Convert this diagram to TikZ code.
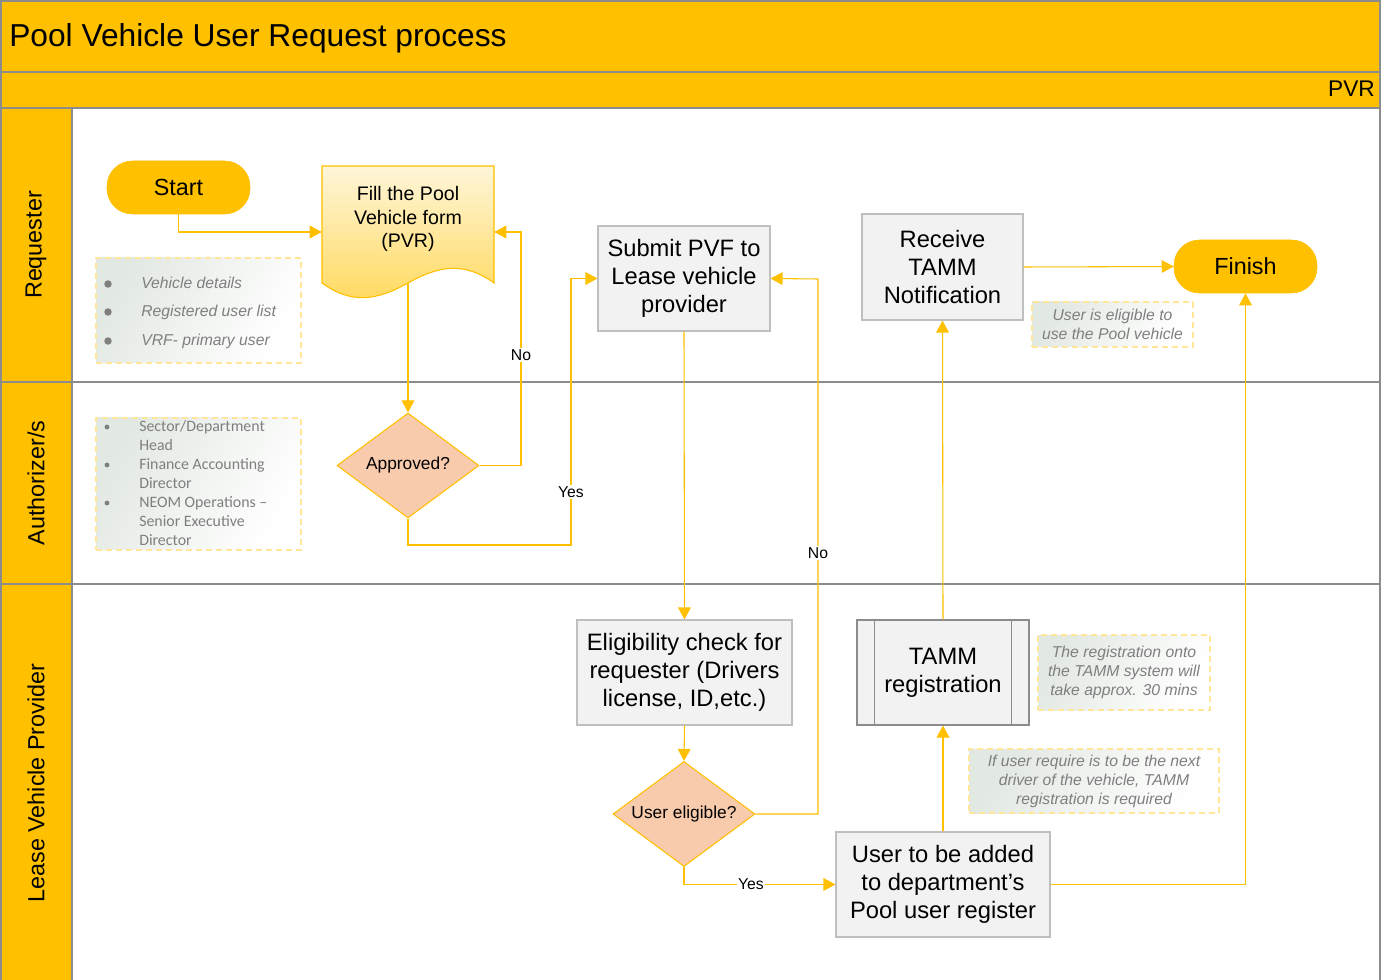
\documentclass[tikz,border=0pt]{standalone}
\usepackage{fontspec}
\setmainfont{Liberation Sans}
\newfontfamily\notefont{Carlito}
\usetikzlibrary{arrows.meta,shapes.geometric}

\definecolor{amber}{HTML}{FFC000}
\definecolor{framegray}{HTML}{8C8C8C}
\definecolor{boxfill}{HTML}{F2F2F2}
\definecolor{boxline}{HTML}{BFBFBF}
\definecolor{predline}{HTML}{8C8C8C}
\definecolor{diafill}{HTML}{F8CBAD}
\definecolor{notetext}{HTML}{7F7F7F}
\definecolor{noteline}{HTML}{FFE699}
\definecolor{noteshade}{HTML}{E2E8E2}
\definecolor{formtop}{HTML}{FFF6D9}
\definecolor{formbot}{HTML}{FFD95E}

\tikzset{
  flow/.style={draw=amber, line width=0.8pt, -{Triangle[length=9pt,width=9.5pt]}},
  procbox/.style={draw=boxline, fill=boxfill, line width=0.8pt, align=center,
    inner sep=0pt, font=\fontsize{17.8}{21}\selectfont},
  terminal/.style={fill=amber, draw=amber, rounded corners=19pt, inner sep=0pt,
    minimum width=143*0.75pt, minimum height=53*0.75pt, font=\fontsize{17.5}{21}\selectfont},
  decision/.style={diamond, aspect=1.35, draw=amber, fill=diafill, line width=0.8pt, inner sep=0pt,
    minimum width=142*0.75pt, minimum height=105*0.75pt, font=\fontsize{13}{15}\selectfont},
  notebox/.style={draw=noteline, line width=0.9pt, dash pattern=on 4.5pt off 3pt,
    left color=noteshade, right color=white, shading angle=60, inner sep=0pt,
    align=center, text=notetext, font=\fontsize{11.8}{14.25}\selectfont\itshape},
  noteitem/.style={anchor=west, inner sep=0pt, text=notetext,
    text height=1.6ex, text depth=0.4ex, font=\fontsize{11.8}{14}\selectfont\itshape},
  authitem/.style={anchor=west, inner sep=0pt, text=notetext,
    text height=1.6ex, text depth=0.4ex, font=\notefont\fontsize{11.9}{14}\selectfont},
  flowlabel/.style={fill=white, inner sep=1pt, font=\fontsize{11.8}{14}\selectfont},
  lanelabel/.style={rotate=90, font=\fontsize{17.5}{21}\selectfont},
  frameline/.style={draw=framegray, line width=1.2pt},
  laneline/.style={draw=framegray, line width=1pt}
}

\begin{document}
\begin{tikzpicture}[x=0.75pt,y=-0.75pt]
\useasboundingbox (0,0) rectangle (1386,980);
\fill[white] (0,0) rectangle (1386,980);

% header bands and lane header column
\fill[amber] (1,1) rectangle (1380,108);
\fill[amber] (1,108) rectangle (72,980);
\draw[laneline] (1,72) -- (1380,72);
\draw[laneline] (1,108) -- (1380,108);
\draw[laneline] (1,382) -- (1380,382);
\draw[laneline] (1,584) -- (1380,584);
\draw[laneline] (72,108) -- (72,980);
\draw[frameline] (1,980) -- (1,1) -- (1380,1) -- (1380,980);

\node[anchor=west, inner sep=0pt, font=\fontsize{23.8}{28}\selectfont] (title) at (9,38.5) {Pool Vehicle User Request process};
\node[anchor=east, inner sep=0pt, font=\fontsize{17}{20}\selectfont] (pvr) at (1375,89) {PVR};

% swimlane titles
\node[lanelabel] (laneReq) at (36,245) {Requester};
\node[lanelabel] (laneAuth) at (36,483) {Authorizer/s};
\node[lanelabel] (laneLvp) at (36,783) {Lease Vehicle Provider};

% requester lane
\node[terminal] (start) at (178.5,187.5) {Start};

\shadedraw[draw=amber, line width=0.8pt, top color=formtop, bottom color=formbot]
  (322,166) -- (494,166) -- (494,283)
  .. controls (465,262) and (440,265) .. (408,283)
  .. controls (376,301) and (351,304) .. (322,283) -- cycle;
\node[inner sep=0pt, minimum width=172*0.75pt, minimum height=132*0.75pt] (form) at (408,232) {};
\node[align=center, inner sep=0pt, font=\fontsize{14.7}{17.6}\selectfont] (formtext) at (408,219)
  {Fill the Pool\\Vehicle form\\(PVR)};
\coordinate (formbottom) at (408,283);

\node[procbox, minimum width=172*0.75pt, minimum height=105*0.75pt] (submit) at (684,278.5)
  {Submit PVF to\\Lease vehicle\\provider};
\node[procbox, minimum width=161*0.75pt, minimum height=106*0.75pt] (receive) at (942.5,267)
  {Receive\\TAMM\\Notification};
\node[terminal] (finish) at (1245.5,266.5) {Finish};

\node[notebox, minimum width=161*0.75pt, minimum height=45*0.75pt] (eligNote) at (1112.5,324.5)
  {User is eligible to\\use the Pool vehicle};

\node[notebox, minimum width=205*0.75pt, minimum height=105*0.75pt] (reqNote) at (198.5,310.5) {};
\foreach \y in {284,312,341} \fill[notetext] (108,\y) circle (2.8pt);
\node[noteitem] (reqA) at (141,284) {Vehicle details};
\node[noteitem] (reqB) at (141,312) {Registered user list};
\node[noteitem] (reqC) at (141,341) {VRF- primary user};

% authorizer lane
\node[notebox, minimum width=205*0.75pt, minimum height=132*0.75pt] (authNote) at (198.5,484) {};
\foreach \y in {427,465,503} \fill[notetext] (107,\y) circle (1.8pt);
\node[authitem] (authA) at (139,427) {Sector/Department};
\node[authitem] (authB) at (139,446) {Head};
\node[authitem] (authC) at (139,465) {Finance Accounting};
\node[authitem] (authD) at (139,484) {Director};
\node[authitem] (authE) at (139,503) {NEOM Operations –};
\node[authitem] (authF) at (139,522) {Senior Executive};
\node[authitem] (authG) at (139,541) {Director};

\node[decision] (approved) at (408,465.5) {Approved?};

% lease vehicle provider lane
\node[procbox, minimum width=215*0.75pt, minimum height=105*0.75pt] (eligcheck) at (684.5,672.5)
  {Eligibility check for\\requester (Drivers\\license, ID,etc.)};
\node[decision] (eligible) at (684,814) {User eligible?};

\node[procbox, draw=predline, minimum width=172*0.75pt, minimum height=105*0.75pt] (tamm) at (943,672.5)
  {TAMM\\registration};
\draw[predline, line width=0.8pt] ([xshift=18*0.75pt]tamm.north west) -- ([xshift=18*0.75pt]tamm.south west);
\draw[predline, line width=0.8pt] ([xshift=-18*0.75pt]tamm.north east) -- ([xshift=-18*0.75pt]tamm.south east);

\node[notebox, minimum width=172*0.75pt, minimum height=75*0.75pt] (tammNote) at (1124,672.5)
  {The registration onto\\the TAMM system will\\take approx. 30 mins};
\node[notebox, minimum width=250*0.75pt, minimum height=64*0.75pt] (nextNote) at (1094,781)
  {If user require is to be the next\\driver of the vehicle, TAMM\\registration is required};

\node[procbox, minimum width=214*0.75pt, minimum height=105*0.75pt] (added) at (943,884.5)
  {User to be added\\to department’s\\Pool user register};

% connectors
\coordinate (noBackA) at (521,232);
\coordinate (yesBendA) at (571,545);
\coordinate (noBackB) at (818,279);

\draw[flow] (start.south) |- (form.west);
\draw[flow] (formbottom) -- (approved.north);
\draw[flow] (approved.east) -| (noBackA) -- (form.east);
\draw[flow] (approved.south) |- (yesBendA) |- (submit.west);
\draw[flow] (submit.south) -- (eligcheck.north);
\draw[flow] (eligcheck.south) -- (eligible.north);
\draw[flow] (eligible.east) -| (noBackB) -- (submit.east);
\draw[flow] (eligible.south) |- (added.west);
\draw[flow] (added.north) -- (tamm.south);
\draw[flow] (tamm.north) -- (receive.south);
\draw[flow] (receive.east) -- (finish.west);
\draw[flow] (added.east) -| (finish.south);

\node[flowlabel] (noA) at (521,355) {No};
\node[flowlabel] (yesA) at (571,492) {Yes};
\node[flowlabel] (noB) at (818,553) {No};
\node[flowlabel] (yesB) at (751,884) {Yes};
\end{tikzpicture}
\end{document}
